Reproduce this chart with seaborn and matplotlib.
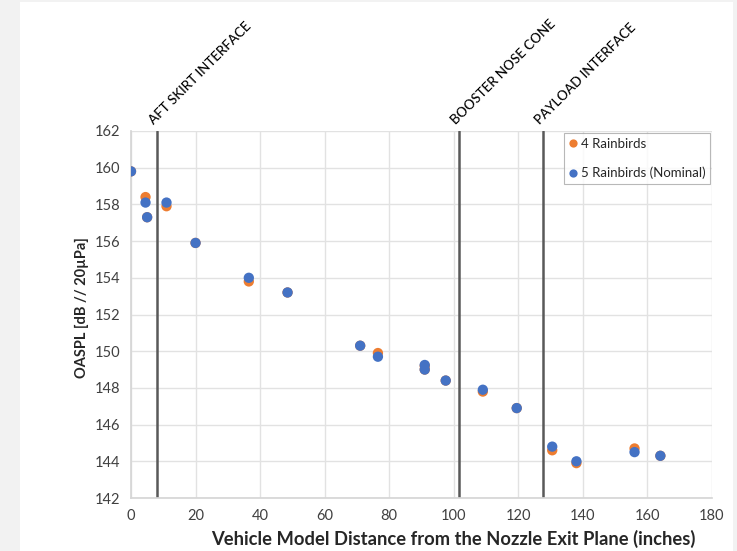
import matplotlib
matplotlib.use("Agg")
import matplotlib.pyplot as plt
import pandas as pd
import seaborn as sns
from matplotlib.patches import Rectangle

sns.set_theme(style="white")
plt.rcParams["font.family"] = ["Lato", "DejaVu Sans"]

# Station positions (inches) and OASPL levels
DISTANCE = [0, 4.5, 5, 11, 20, 36.5, 48.5, 71, 76.5, 91, 91, 97.5, 109, 119.5,
            130.5, 138, 156, 164]
OASPL_4_RAINBIRDS = [159.8, 158.4, 157.3, 157.9, 155.9, 153.8, 153.2, 150.3, 149.9,
                     149.2, 149.0, 148.4, 147.8, 146.9, 144.6, 143.9, 144.7, 144.3]
OASPL_5_RAINBIRDS = [159.8, 158.1, 157.3, 158.1, 155.9, 154.0, 153.2, 150.3, 149.7,
                     149.25, 149.0, 148.4, 147.9, 146.9, 144.8, 144.0, 144.5, 144.3]

SERIES = ["4 Rainbirds", "5 Rainbirds (Nominal)"]
COLORS = ["#ED7D31", "#4472C4"]

INTERFACES = [8, 101.5, 127.7]
INTERFACE_LABELS = ["AFT SKIRT INTERFACE", "BOOSTER NOSE CONE", "PAYLOAD INTERFACE"]

df = pd.concat([
    pd.DataFrame({"distance": DISTANCE, "oaspl": OASPL_4_RAINBIRDS, "series": SERIES[0]}),
    pd.DataFrame({"distance": DISTANCE, "oaspl": OASPL_5_RAINBIRDS, "series": SERIES[1]}),
], ignore_index=True)

fig = plt.figure(figsize=(7.37, 5.51), dpi=100, facecolor="#F2F2F2")
panel = Rectangle((20 / 737, 0), 713 / 737, 549 / 551, transform=fig.transFigure,
                  facecolor="white", edgecolor="none", zorder=-10)
fig.add_artist(panel)
ax = fig.add_axes([131 / 737, 1 - 498 / 551, 581 / 737, 367 / 551])
ax.set_facecolor("none")
ax.set_zorder(1)

sns.scatterplot(data=df, x="distance", y="oaspl", hue="series", hue_order=SERIES,
                palette=COLORS, s=55, edgecolor="none", linewidth=0, ax=ax, zorder=3)

for xpos, label in zip(INTERFACES, INTERFACE_LABELS):
    ax.axvline(xpos, color="#595959", linewidth=1.8, zorder=2)
    ax.annotate(label, xy=(xpos, 162), xytext=(-1, 3), textcoords="offset points",
                rotation=45, rotation_mode="anchor", ha="left", va="bottom",
                fontsize=9.6, fontweight="medium", color="black", annotation_clip=False)

ax.set_xlim(0, 180)
ax.set_ylim(142, 162)
ax.set_xticks(range(0, 181, 20))
ax.set_yticks(range(142, 163, 2))
ax.grid(True, color="#E2E2E2", linewidth=1)
ax.set_axisbelow(True)
for side in ["top", "right"]:
    ax.spines[side].set_visible(False)
for side in ["left", "bottom"]:
    ax.spines[side].set_color("#D6D6D6")
ax.tick_params(axis="both", length=0, labelsize=10.5, labelcolor="#404040", pad=8)

ax.set_xlabel("Vehicle Model Distance from the Nozzle Exit Plane (inches)",
              fontsize=13.2, fontweight="bold", color="#262626")
ax.xaxis.set_label_coords(0.555, -0.088)
ax.set_ylabel("OASPL [dB // 20µPa]", fontsize=10.5, fontweight="bold", color="#262626")
ax.yaxis.set_label_coords(-0.072, 0.518)

sns.move_legend(ax, "upper right", bbox_to_anchor=(1.0, 1.0), title=None,
                frameon=True, fontsize=9.5, handletextpad=0.3, borderpad=0.35,
                borderaxespad=0.15, labelspacing=1.3, handlelength=0.6,
                markerscale=0.8, fancybox=False)
leg = ax.get_legend()
leg.get_frame().set_edgecolor("#A6A6A6")
leg.get_frame().set_linewidth(0.8)

fig.savefig("out.png", dpi=100, facecolor=fig.get_facecolor())
